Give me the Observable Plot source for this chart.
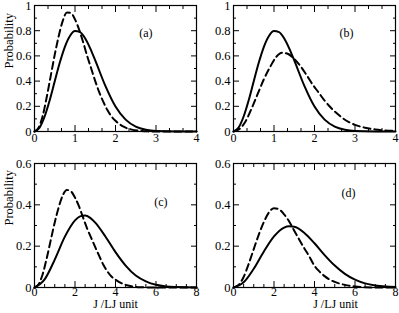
<!DOCTYPE html>
<html><head><meta charset="utf-8">
<script src="https://cdn.jsdelivr.net/npm/d3@7"></script>
<script src="https://cdn.jsdelivr.net/npm/@observablehq/plot@0.6"></script>
<style>
body{margin:0;background:#fff;}
#chart{position:relative;width:399px;height:313px;background:#fff;}
#chart > svg{position:absolute;overflow:visible;}
#chart svg, #chart svg text, #chart svg g{font-family:"Liberation Serif","Times New Roman",serif !important;}
</style></head><body><div id="chart"></div>
<script>
// ---- tick values ----
const xMajorAB = [0, 1, 2, 3, 4];
const xMinorAB = [1/3, 2/3, 4/3, 5/3, 7/3, 8/3, 10/3, 11/3];
const yMajorAB = [0, 0.2, 0.4, 0.6, 0.8, 1];
const yMinorAB = [0.1, 0.3, 0.5, 0.7, 0.9];
const xMajorCD = [0, 2, 4, 6, 8];
const xMinorCD = [0.5, 1, 1.5, 2.5, 3, 3.5, 4.5, 5, 5.5, 6.5, 7, 7.5];
const yMajorCD = [0, 0.2, 0.4, 0.6];
const yMinorCD = [0.1, 0.3, 0.5];
const tags = ["(a)", "(b)", "(c)", "(d)"];
const yTitle = "Probability";
const xTitle = "J /LJ unit";

// ---- series ----
const solidAB_x = [0,0.125,0.25,0.375,0.5,0.625,0.75,0.875,1.0,1.125,1.25,1.375,1.5,1.75,2.0,2.25,2.5,2.75,3.0,3.5,4.0];
const solidAB_y = [0,0.031,0.119,0.248,0.399,0.547,0.672,0.758,0.797,0.789,0.740,0.660,0.564,0.362,0.198,0.094,0.039,0.014,0.004,0.0003,0];
const dashedA_x = [0,0.1,0.2,0.3,0.4,0.5,0.6,0.7,0.8,0.9,1.0,1.1,1.2,1.3,1.4,1.5,1.6,1.7,1.8,1.9,2.0,2.2,2.4,2.6,2.8,3.0,4.0];
const dashedA_y = [0,0.03,0.12,0.27,0.44,0.61,0.76,0.88,0.945,0.94,0.89,0.81,0.71,0.60,0.50,0.40,0.31,0.235,0.17,0.12,0.085,0.038,0.015,0.005,0.001,0,0];
const dashedB_x = [0,0.15,0.3,0.45,0.6,0.75,0.9,1.05,1.2,1.35,1.5,1.65,1.8,1.95,2.1,2.25,2.4,2.55,2.7,2.85,3.0,3.25,3.5,3.75,4.0];
const dashedB_y = [0,0.02,0.082,0.185,0.30,0.415,0.51,0.59,0.625,0.615,0.575,0.52,0.45,0.375,0.31,0.245,0.19,0.145,0.105,0.075,0.053,0.03,0.016,0.008,0.004];
const solidC_x = [0,0.5,1,1.5,2,2.25,2.5,2.75,3,3.5,4,4.5,5,5.5,6,6.5,7,7.5,8];
const solidC_y = [0,0.039,0.135,0.246,0.325,0.344,0.348,0.337,0.314,0.247,0.171,0.106,0.058,0.03,0.013,0.005,0.002,0.0008,0.0002];
const dashedC_x = [0,0.2,0.4,0.6,0.8,1.0,1.2,1.4,1.6,1.8,2.0,2.2,2.4,2.6,2.8,3.0,3.2,3.4,3.6,3.8,4.0,4.4,4.8,5.2,5.6,6,8];
const dashedC_y = [0,0.0155,0.063,0.14,0.228,0.315,0.39,0.447,0.472,0.465,0.435,0.392,0.338,0.285,0.24,0.195,0.152,0.11,0.078,0.053,0.038,0.016,0.006,0.0017,0.0005,0,0];
const solidD_x = [0,0.5,1,1.5,2,2.5,2.75,3,3.5,4,4.5,5,5.5,6,6.5,7,7.5,8];
const solidD_y = [0,0.025,0.091,0.174,0.247,0.290,0.296,0.294,0.264,0.214,0.157,0.106,0.066,0.038,0.020,0.010,0.0044,0.0019];
const dashedD_x = [0,0.25,0.5,0.75,1.0,1.25,1.5,1.75,2.0,2.25,2.5,2.75,3.0,3.25,3.5,3.75,4.0,4.25,4.5,4.75,5.0,5.5,6.0,6.5,7,8];
const dashedD_y = [0,0.0126,0.051,0.114,0.186,0.256,0.317,0.363,0.384,0.378,0.354,0.319,0.275,0.231,0.189,0.149,0.105,0.077,0.055,0.038,0.027,0.0126,0.005,0.0012,0.0003,0];

const pts = (xs, ys) => xs.map((x, i) => ({x, y: ys[i]}));
const FONT = '"Liberation Serif", "Times New Roman", serif';

function panel(o) {
  const marks = [
    Plot.line(pts(o.sx, o.sy), {x: "x", y: "y", stroke: "black", strokeWidth: 2, curve: "monotone-x"}),
    Plot.line(pts(o.dx, o.dy), {x: "x", y: "y", stroke: "black", strokeWidth: 2, strokeDasharray: "7,4", curve: "monotone-x"}),
    Plot.frame({stroke: "black", strokeWidth: 1.2}),
  ];
  for (const a of ["bottom", "top"]) {
    marks.push(Plot.axisX(o.xMaj, {anchor: a, tickSize: -6, fill: "none", stroke: "black", label: null}));
    marks.push(Plot.axisX(o.xMin, {anchor: a, tickSize: -3, fill: "none", stroke: "black", label: null}));
  }
  for (const a of ["left", "right"]) {
    marks.push(Plot.axisY(o.yMaj, {anchor: a, tickSize: -6, fill: "none", stroke: "black", label: null}));
    marks.push(Plot.axisY(o.yMin, {anchor: a, tickSize: -3, fill: "none", stroke: "black", label: null}));
  }
  marks.push(Plot.axisX(o.xMaj, {anchor: "bottom", tickSize: 0, tickPadding: o.xPad, tickFormat: d => String(d), label: null, fill: "black", fontSize: 12}));
  marks.push(Plot.axisY(o.yMaj, {anchor: "left", tickSize: 0, tickPadding: 3, tickFormat: d => String(d), label: null, fill: "black", fontSize: 12.5}));
  marks.push(Plot.text([o.tag], {frameAnchor: "top-right", text: d => d, dx: o.tagDx, dy: o.tagDy, textAnchor: "end", lineAnchor: "middle", fontSize: 12}));
  if (o.yLabel) marks.push(Plot.text([o.yLabel], {frameAnchor: "left", text: d => d, rotate: -90, dx: -26, fontSize: 12.5}));
  if (o.xLabel) marks.push(Plot.text([o.xLabel], {frameAnchor: "bottom", text: d => d, dx: o.xLabelDx, dy: 17, lineAnchor: "middle", fontSize: 12}));
  const svg = Plot.plot({
    width: o.w, height: o.h,
    marginLeft: o.ml, marginRight: o.mr, marginTop: o.mt, marginBottom: o.mb,
    x: {domain: o.xDom},
    y: {domain: o.yDom},
    style: {fontFamily: FONT, fontSize: "12px", background: "transparent", color: "black", overflow: "visible"},
    marks
  });
  svg.style.left = o.left + "px";
  svg.style.top = o.top + "px";
  return svg;
}

const chart = document.getElementById("chart");
chart.append(panel({left: 0, top: 0, w: 200, h: 150, ml: 34, mr: 4, mt: 5, mb: 19, xPad: 2,
  xDom: [0, 4], yDom: [0, 1], xMaj: xMajorAB, xMin: xMinorAB, yMaj: yMajorAB, yMin: yMinorAB,
  sx: solidAB_x, sy: solidAB_y, dx: dashedA_x, dy: dashedA_y, tag: tags[0], tagDx: -44, tagDy: 28, yLabel: yTitle}));
chart.append(panel({left: 199, top: 0, w: 200, h: 150, ml: 34, mr: 4, mt: 5, mb: 19, xPad: 2,
  xDom: [0, 4], yDom: [0, 1], xMaj: xMajorAB, xMin: xMinorAB, yMaj: yMajorAB, yMin: yMinorAB,
  sx: solidAB_x, sy: solidAB_y, dx: dashedB_x, dy: dashedB_y, tag: tags[1], tagDx: -42, tagDy: 28}));
chart.append(panel({left: 0, top: 150, w: 200, h: 163, ml: 34, mr: 4, mt: 13, mb: 26, xPad: 0,
  xDom: [0, 8], yDom: [0, 0.6], xMaj: xMajorCD, xMin: xMinorCD, yMaj: yMajorCD, yMin: yMinorCD,
  sx: solidC_x, sy: solidC_y, dx: dashedC_x, dy: dashedC_y, tag: tags[2], tagDx: -29, tagDy: 39, yLabel: yTitle, xLabel: xTitle, xLabelDx: 0}));
chart.append(panel({left: 199, top: 150, w: 200, h: 163, ml: 34, mr: 4, mt: 13, mb: 26, xPad: 0,
  xDom: [0, 8], yDom: [0, 0.6], xMaj: xMajorCD, xMin: xMinorCD, yMaj: yMajorCD, yMin: yMinorCD,
  sx: solidD_x, sy: solidD_y, dx: dashedD_x, dy: dashedD_y, tag: tags[3], tagDx: -40, tagDy: 30, xLabel: xTitle, xLabelDx: 21}));
</script></body></html>
